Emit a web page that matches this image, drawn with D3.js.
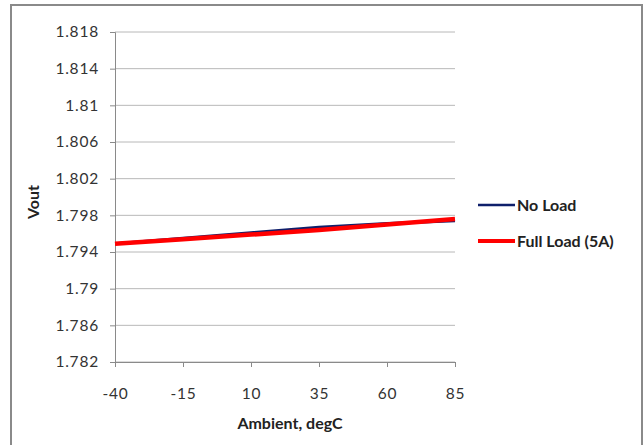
<!DOCTYPE html>
<html><head><meta charset="utf-8">
<script src="https://cdn.jsdelivr.net/npm/d3@7"></script>
<style>body{margin:0;background:#fff}svg{display:block}</style>
</head><body><svg id="c" width="643" height="445"></svg>
<script>
const temps = [-40, -15, 10, 35, 60, 85];
const noLoad = [1.7949, 1.7955, 1.7961, 1.7967, 1.7971, 1.7974];
const fullLoad = [1.7949, 1.7954, 1.7959, 1.7964, 1.7970, 1.7976];
const yTicks = [1.782, 1.786, 1.79, 1.794, 1.798, 1.802, 1.806, 1.81, 1.814, 1.818];
const seriesNames = ["No Load", "Full Load (5A)"];
const colors = ["#0f1f6b", "#ff0000"];

const svg = d3.select("#c");
const font = "Lato, 'Open Sans', sans-serif";
svg.append("rect").attr("x",11).attr("y",5).attr("width",631).attr("height",445)
  .attr("fill","#fff").attr("stroke","#8a8a8a").attr("stroke-width",2);

const x = d3.scaleLinear().domain([-40,85]).range([115,455]);
const y = d3.scaleLinear().domain([1.782,1.818]).range([362,32]);

// gridlines
svg.append("g").selectAll("line").data(yTicks).join("line")
  .attr("x1",115).attr("x2",455).attr("y1",d=>y(d)).attr("y2",d=>y(d))
  .attr("stroke","#b8b8b8").attr("stroke-width",1);

const ya = svg.append("g").attr("transform","translate(115,0)")
  .call(d3.axisLeft(y).tickValues(yTicks).tickFormat(d=>String(+d.toFixed(3))).tickSize(5).tickPadding(11));
const xa = svg.append("g").attr("transform","translate(0,362)")
  .call(d3.axisBottom(x).tickValues(temps).tickFormat(d=>String(d)).tickSize(5).tickPadding(21));
[ya,xa].forEach(a=>{
  a.select(".domain").attr("stroke","#8a8a8a");
  a.selectAll(".tick line").attr("stroke","#8a8a8a");
  a.selectAll("text").attr("font-family",font).attr("font-size",15.5).attr("fill","#333")
    .attr("letter-spacing","0.8px");
});

const line = d3.line().x((d,i)=>x(temps[i])).y(d=>y(d));
svg.append("path").datum(noLoad).attr("d",line).attr("fill","none")
  .attr("stroke",colors[0]).attr("stroke-width",3);
svg.append("path").datum(fullLoad).attr("d",line).attr("fill","none")
  .attr("stroke",colors[1]).attr("stroke-width",4.5);

svg.append("text").attr("x",290).attr("y",429).attr("text-anchor","middle")
  .attr("font-family",font).attr("font-weight","bold").attr("font-size",16).attr("fill","#222")
  .text("Ambient, degC");
svg.append("text").attr("transform","translate(39,202) rotate(-90)").attr("text-anchor","middle")
  .attr("font-family",font).attr("font-weight","bold").attr("font-size",16).attr("fill","#222")
  .text("Vout");

const lg = svg.append("g");
seriesNames.forEach((n,i)=>{
  const yy = 205 + i*36;
  lg.append("line").attr("x1",478).attr("x2",515).attr("y1",yy).attr("y2",yy)
    .attr("stroke",colors[i]).attr("stroke-width",i?4:2.5);
  lg.append("text").attr("x",517).attr("y",yy+5.5).attr("font-family",font)
    .attr("font-weight","bold").attr("font-size",16).attr("fill","#222").text(n);
});
</script></body></html>
